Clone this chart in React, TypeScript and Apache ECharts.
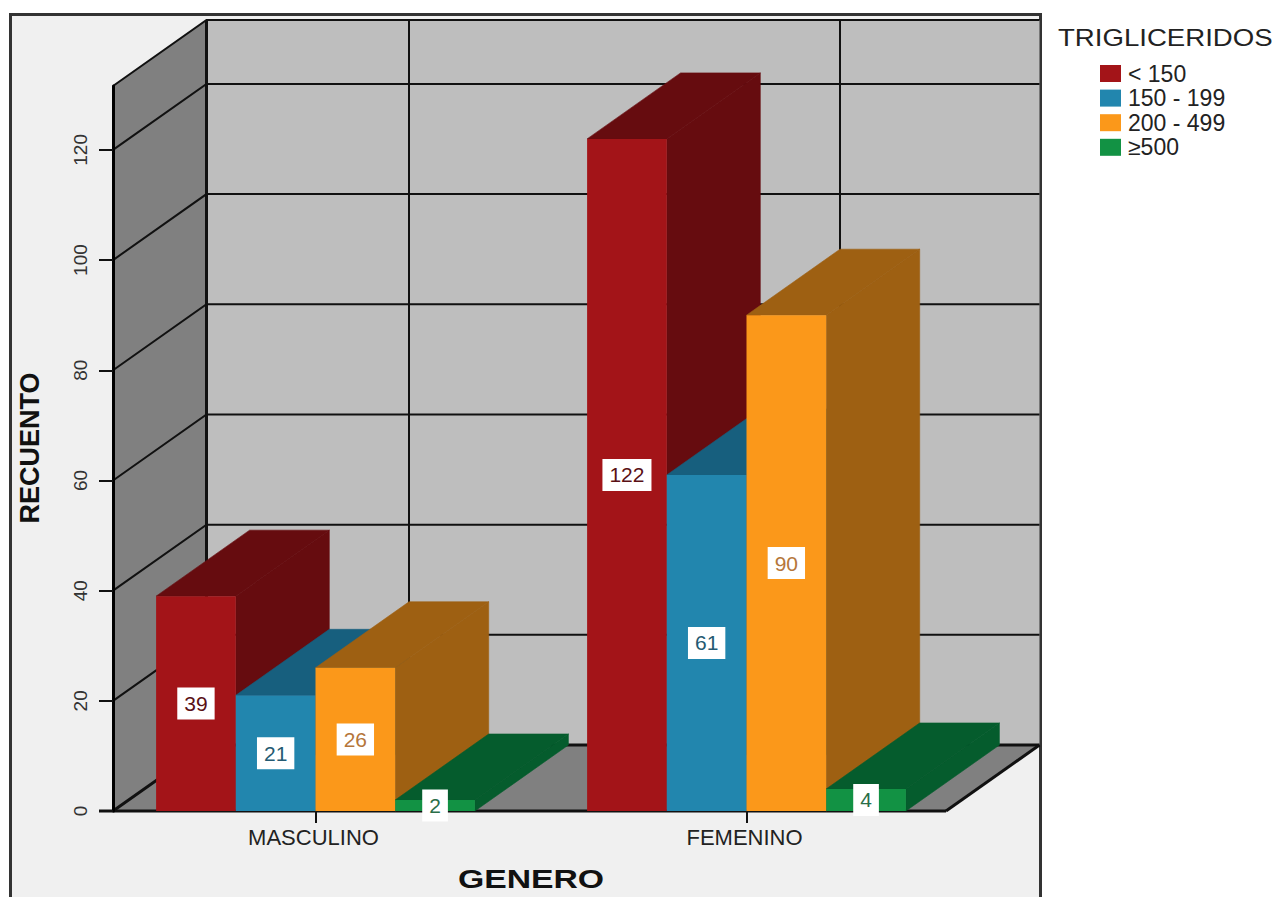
import React, { useEffect, useRef } from "react";
import * as echarts from "echarts";

const categories = ["MASCULINO", "FEMENINO"];
const seriesNames = ["< 150", "150 - 199", "200 - 499", "≥500"];
const lowTg = [39, 122];
const midTg = [21, 61];
const highTg = [26, 90];
const veryHighTg = [2, 4];
const seriesValues = [lowTg, midTg, highTg, veryHighTg];
const yTicks = [0, 20, 40, 60, 80, 100, 120];
const yMax = 131.6;

const frontColors = ["#a31418", "#2286ae", "#fb981a", "#129244"];
const darkColors = ["#660c0f", "#175f7e", "#9e6012", "#055c2d"];
const labelColors = ["#5a1015", "#245a72", "#b5763a", "#2a6e48"];

const DX = 93.5;
const DY = -66;
const BAR = 79.7;
const LEFT = 113;
const RIGHT = 946;
const FONT = "Liberation Sans, Arial, sans-serif";

function wallsItem(_p: any, api: any) {
  const y0 = api.coord([0, 0])[1];
  const yTop = api.coord([0, yMax])[1];
  const black = { stroke: "#111", fill: "none", lineWidth: 2 };
  const children: any[] = [
    { type: "rect", shape: { x: LEFT + DX, y: yTop + DY, width: RIGHT - LEFT, height: y0 - yTop }, style: { fill: "#bebebe" } },
    { type: "polygon", shape: { points: [[LEFT, yTop], [LEFT + DX, yTop + DY], [LEFT + DX, y0 + DY], [LEFT, y0]] }, style: { fill: "#808080" } },
    { type: "polygon", shape: { points: [[LEFT, y0], [RIGHT, y0], [RIGHT + DX, y0 + DY], [LEFT + DX, y0 + DY]] }, style: { fill: "#808080" } },
  ];
  yTicks.forEach((v) => {
    const y = api.coord([0, v])[1];
    children.push({ type: "polyline", shape: { points: [[LEFT, y], [LEFT + DX, y + DY], [RIGHT + DX, y + DY]] }, style: { ...black, lineWidth: v === 0 ? 3 : 2 } });
  });
  categories.forEach((_c, i) => {
    const x = api.coord([i, 0])[0] + DX;
    children.push({ type: "line", shape: { x1: x, y1: yTop + DY, x2: x, y2: y0 + DY }, style: black });
  });
  children.push(
    { type: "polyline", shape: { points: [[LEFT, yTop], [LEFT + DX, yTop + DY], [RIGHT + DX, yTop + DY]] }, style: black },
    { type: "line", shape: { x1: LEFT + DX, y1: yTop + DY, x2: LEFT + DX, y2: y0 + DY }, style: { ...black, lineWidth: 3 } },
    { type: "line", shape: { x1: RIGHT, y1: y0, x2: RIGHT + DX, y2: y0 + DY }, style: { ...black, lineWidth: 3 } },
    { type: "line", shape: { x1: LEFT - 14, y1: y0, x2: RIGHT, y2: y0 }, style: { ...black, lineWidth: 3 } }
  );
  return { type: "group", children };
}

function barItem(seriesIndex: number) {
  return (_p: any, api: any) => {
    const cat = api.value(0);
    const val = api.value(1);
    const c = api.coord([cat, val]);
    const y0 = api.coord([cat, 0])[1];
    const x = c[0] + (seriesIndex - 2) * BAR;
    const y = c[1];
    const dark = { fill: darkColors[seriesIndex], stroke: darkColors[seriesIndex], lineWidth: 0.6 };
    return {
      type: "group",
      children: [
        { type: "polygon", shape: { points: [[x + BAR, y], [x + BAR + DX, y + DY], [x + BAR + DX, y0 + DY], [x + BAR, y0]] }, style: dark },
        { type: "polygon", shape: { points: [[x, y], [x + DX, y + DY], [x + BAR + DX, y + DY], [x + BAR, y]] }, style: dark },
        { type: "rect", shape: { x, y, width: BAR, height: y0 - y }, style: { fill: frontColors[seriesIndex] } },
        {
          type: "text",
          z2: 10,
          style: {
            x: x + BAR / 2,
            y: (y + y0) / 2,
            text: String(val),
            font: `21px ${FONT}`,
            fill: labelColors[seriesIndex],
            align: "center",
            verticalAlign: "middle",
            backgroundColor: "#fff",
            padding: [6, 7, 5, 7],
          },
        },
      ],
    };
  };
}

const option: any = {
  animation: false,
  backgroundColor: "#ffffff",
  grid: { left: 100, width: 862, top: 86, height: 725 },
  xAxis: {
    type: "category",
    data: categories,
    axisLine: { show: false },
    axisTick: { show: true, alignWithLabel: true, length: 12, lineStyle: { color: "#111", width: 2 } },
    axisLabel: { fontFamily: FONT, fontSize: 22, color: "#222", margin: 15, padding: [0, 4, 0, 0] },
  },
  yAxis: {
    type: "value",
    min: 0,
    max: yMax,
    offset: -13,
    z: 4,
    axisLine: { show: true, lineStyle: { color: "#000", width: 3 } },
    axisTick: { show: true, length: 14, lineStyle: { color: "#111", width: 2 }, customValues: yTicks },
    axisLabel: { rotate: 90, fontFamily: FONT, fontSize: 19, color: "#333", margin: 23, customValues: yTicks },
    splitLine: { show: false },
  },
  legend: {
    orient: "vertical",
    left: 1100,
    top: 62,
    padding: 0,
    icon: "rect",
    itemWidth: 21,
    itemHeight: 17,
    itemGap: 1.6,
    data: seriesNames,
    selectedMode: false,
    textStyle: { fontFamily: FONT, fontSize: 23, lineHeight: 17, color: "#222", padding: [0, 0, 0, 2] },
  },
  graphic: [
    { type: "rect", z: -10, shape: { x: 10.5, y: 14.5, width: 1030, height: 900 }, style: { fill: "#f0f0f0", stroke: "#333", lineWidth: 3 } },
    { type: "text", x: 1058, y: 38, scaleX: 1.15, style: { text: "TRIGLICERIDOS", font: `24px ${FONT}`, fill: "#222", textAlign: "left", textVerticalAlign: "middle" } },
    { type: "text", x: 531, y: 879, scaleX: 1.35, style: { text: "GENERO", font: `bold 25px ${FONT}`, fill: "#111", textAlign: "center", textVerticalAlign: "middle" } },
    { type: "text", x: 30, y: 448, rotation: Math.PI / 2, style: { text: "RECUENTO", font: `bold 27px ${FONT}`, fill: "#111", textAlign: "center", textVerticalAlign: "middle" } },
  ],
  series: [
    { type: "custom", name: "walls", silent: true, z: 1, data: [[0, 0]], renderItem: wallsItem, clip: false },
    ...seriesNames.map((name, i) => ({
      type: "custom",
      name,
      z: 2,
      itemStyle: { color: frontColors[i] },
      encode: { x: 0, y: 1 },
      data: seriesValues[i].map((v, c) => [c, v]),
      renderItem: barItem(i),
      clip: false,
    })),
  ],
};

export default function App() {
  const ref = useRef<HTMLDivElement>(null);
  useEffect(() => {
    document.body.style.margin = "0";
    const chart = echarts.init(ref.current as HTMLDivElement, undefined, { renderer: "svg" });
    chart.setOption(option);
    return () => chart.dispose();
  }, []);
  return <div ref={ref} style={{ width: 1279, height: 897 }} />;
}
